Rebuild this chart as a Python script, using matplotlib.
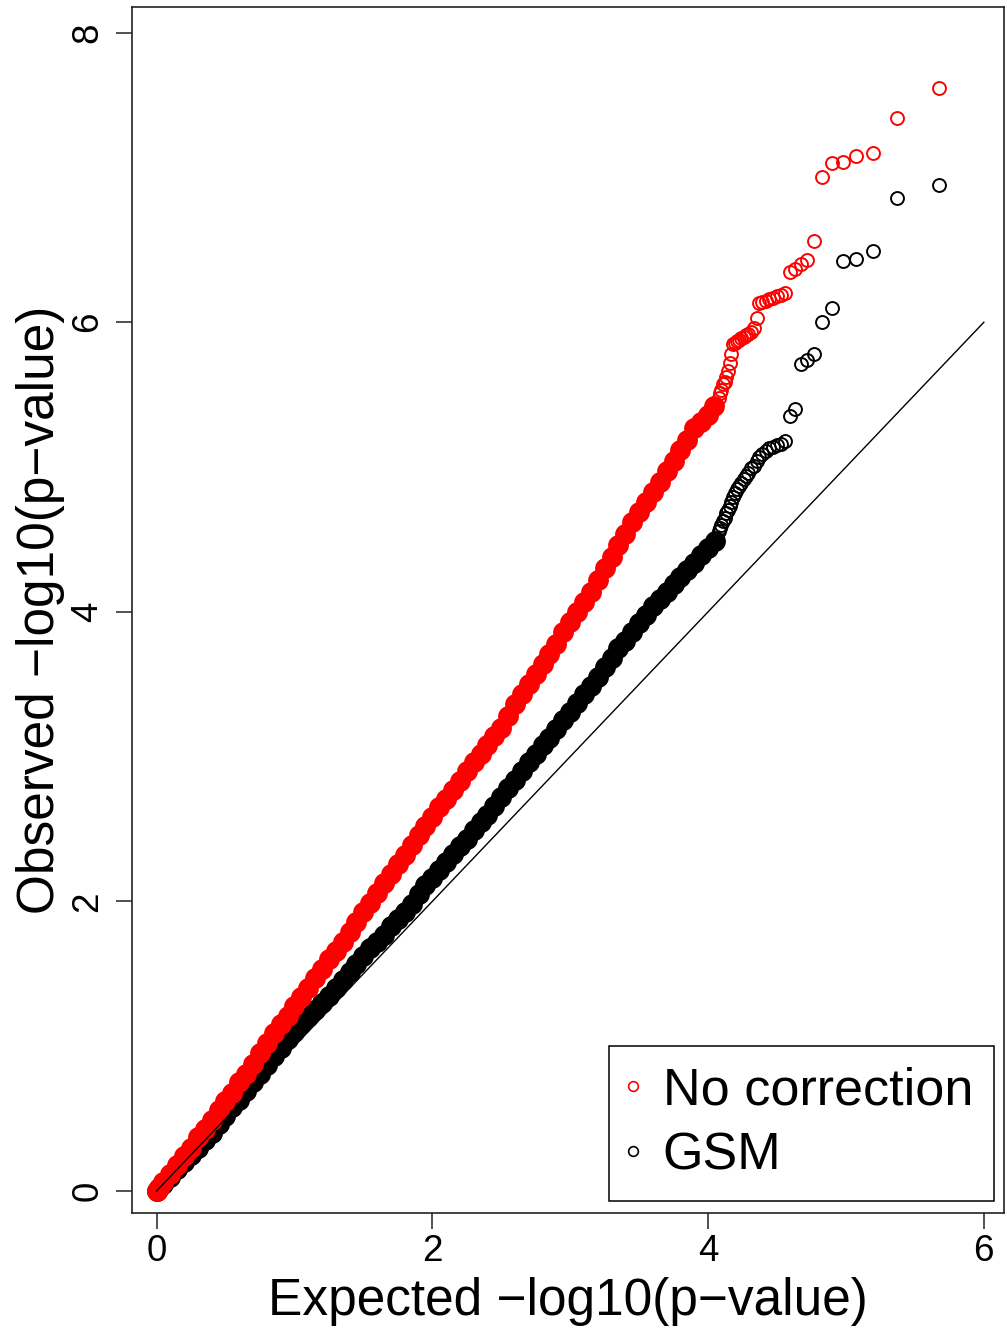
import matplotlib
matplotlib.use("Agg")
import matplotlib.pyplot as plt
from matplotlib.lines import Line2D

plt.rcParams['font.family'] = ['Liberation Sans', 'DejaVu Sans']

# ---------------- data ----------------
# extreme tail: expected -log10(p) shared by both series (ranks 1..40)
tail_expected = [5.674, 5.373, 5.196, 5.071, 4.975, 4.896, 4.829, 4.771, 4.720, 4.674,
                 4.632, 4.594, 4.559, 4.527, 4.497, 4.469, 4.443, 4.418, 4.394, 4.372,
                 4.352, 4.331, 4.311, 4.293, 4.275, 4.258, 4.242, 4.226, 4.211, 4.197,
                 4.183, 4.169, 4.156, 4.144, 4.131, 4.120, 4.108, 4.097, 4.086, 4.076]
nocorr_tail_obs = [7.62, 7.41, 7.17, 7.15, 7.11, 7.10, 7.00, 6.56, 6.43, 6.40,
                   6.37, 6.35, 6.20, 6.19, 6.18, 6.165, 6.16, 6.15, 6.14, 6.13,
                   6.03, 5.96, 5.93, 5.92, 5.91, 5.90, 5.89, 5.88, 5.87, 5.86,
                   5.85, 5.78, 5.72, 5.66, 5.62, 5.59, 5.57, 5.53, 5.51, 5.48]
gsm_tail_obs = [6.95, 6.86, 6.49, 6.44, 6.42, 6.10, 6.00, 5.78, 5.74, 5.71,
                5.40, 5.35, 5.18, 5.16, 5.15, 5.14, 5.13, 5.11, 5.09, 5.07,
                5.04, 5.01, 4.99, 4.96, 4.94, 4.92, 4.89, 4.87, 4.85, 4.82,
                4.79, 4.76, 4.73, 4.70, 4.68, 4.65, 4.63, 4.60, 4.58, 4.56]

# bulk of the points (heavily overlapping, appear as a solid band)
nocorr_bulk_exp = [0.00, 0.02, 0.05, 0.10, 0.15, 0.20, 0.25, 0.30, 0.35, 0.40,
                   0.45, 0.50, 0.55, 0.60, 0.65, 0.70, 0.75, 0.80, 0.85, 0.90,
                   0.95, 1.00, 1.05, 1.10, 1.15, 1.20, 1.25, 1.30, 1.35, 1.40,
                   1.45, 1.50, 1.55, 1.60, 1.65, 1.70, 1.75, 1.80, 1.85, 1.90,
                   1.95, 2.00, 2.05, 2.10, 2.15, 2.20, 2.25, 2.30, 2.35, 2.40,
                   2.45, 2.50, 2.55, 2.60, 2.65, 2.70, 2.75, 2.80, 2.85, 2.90,
                   2.95, 3.00, 3.05, 3.10, 3.15, 3.20, 3.25, 3.30, 3.35, 3.40,
                   3.45, 3.50, 3.55, 3.60, 3.65, 3.70, 3.75, 3.80, 3.85, 3.90,
                   3.95, 4.00, 4.04]
nocorr_bulk_obs = [0.00, 0.02, 0.06, 0.12, 0.18, 0.24, 0.30, 0.37, 0.43, 0.49,
                   0.56, 0.62, 0.68, 0.75, 0.81, 0.88, 0.95, 1.02, 1.09, 1.15,
                   1.21, 1.28, 1.34, 1.40, 1.47, 1.53, 1.60, 1.66, 1.72, 1.79,
                   1.86, 1.93, 1.99, 2.06, 2.13, 2.19, 2.26, 2.32, 2.39, 2.46,
                   2.52, 2.58, 2.65, 2.71, 2.77, 2.83, 2.90, 2.96, 3.02, 3.08,
                   3.14, 3.20, 3.28, 3.36, 3.43, 3.50, 3.57, 3.64, 3.71, 3.78,
                   3.86, 3.93, 4.00, 4.07, 4.14, 4.22, 4.30, 4.38, 4.46, 4.54,
                   4.62, 4.69, 4.76, 4.83, 4.90, 4.97, 5.04, 5.12, 5.19, 5.27,
                   5.31, 5.36, 5.42]
gsm_bulk_exp = [0.00, 0.02, 0.05, 0.10, 0.15, 0.20, 0.25, 0.30, 0.35, 0.40,
                0.45, 0.50, 0.55, 0.60, 0.65, 0.70, 0.75, 0.80, 0.85, 0.90,
                0.95, 1.00, 1.05, 1.10, 1.15, 1.20, 1.25, 1.30, 1.35, 1.40,
                1.45, 1.50, 1.55, 1.60, 1.65, 1.70, 1.75, 1.80, 1.85, 1.90,
                1.95, 2.00, 2.05, 2.10, 2.15, 2.20, 2.25, 2.30, 2.35, 2.40,
                2.45, 2.50, 2.55, 2.60, 2.65, 2.70, 2.75, 2.80, 2.85, 2.90,
                2.95, 3.00, 3.05, 3.10, 3.15, 3.20, 3.25, 3.30, 3.35, 3.40,
                3.45, 3.50, 3.55, 3.60, 3.65, 3.70, 3.75, 3.80, 3.85, 3.90,
                3.95, 4.00, 4.05]
gsm_bulk_obs = [0.00, 0.02, 0.05, 0.10, 0.15, 0.20, 0.25, 0.30, 0.35, 0.40,
                0.46, 0.52, 0.58, 0.63, 0.69, 0.75, 0.81, 0.87, 0.93, 0.99,
                1.05, 1.10, 1.15, 1.20, 1.25, 1.30, 1.35, 1.40, 1.46, 1.51,
                1.57, 1.62, 1.68, 1.72, 1.77, 1.83, 1.88, 1.93, 1.98, 2.05,
                2.11, 2.16, 2.22, 2.27, 2.33, 2.38, 2.43, 2.49, 2.55, 2.60,
                2.66, 2.72, 2.78, 2.84, 2.90, 2.96, 3.02, 3.08, 3.13, 3.19,
                3.25, 3.31, 3.37, 3.43, 3.49, 3.55, 3.62, 3.68, 3.75, 3.80,
                3.86, 3.92, 3.98, 4.04, 4.09, 4.14, 4.19, 4.24, 4.29, 4.34,
                4.39, 4.44, 4.49]

diag_x = [0, 6]
diag_y = [0, 6]

series_labels = ["No correction", "GSM"]
series_colors = ["red", "black"]
x_ticks = [0, 2, 4, 6]
y_ticks = [0, 2, 4, 6, 8]
x_label = "Expected \u2212log10(p\u2212value)"
y_label = "Observed \u2212log10(p\u2212value)"

# ---------------- figure ----------------
W, H = 1007, 1331
fig = plt.figure(figsize=(W / 100, H / 100), dpi=100)
ax = fig.add_axes([132.3 / W, 1 - 1213.3 / H, (1004 - 132.3) / W, (1213.3 - 7.3) / H])

ax.set_xlim(-0.1755, 6.146)
ax.set_ylim(-0.154, 8.175)

# GSM first, then no-correction on top, then the diagonal
ax.plot(gsm_bulk_exp, gsm_bulk_obs, linestyle='none', marker='o', ms=15,
        mfc=series_colors[1], mec=series_colors[1], mew=0)
ax.plot(tail_expected, gsm_tail_obs, linestyle='none', marker='o', ms=9.3,
        mfc='none', mec=series_colors[1], mew=1.4)
ax.plot(nocorr_bulk_exp, nocorr_bulk_obs, linestyle='none', marker='o', ms=15,
        mfc=series_colors[0], mec=series_colors[0], mew=0)
ax.plot(tail_expected, nocorr_tail_obs, linestyle='none', marker='o', ms=9.3,
        mfc='none', mec=series_colors[0], mew=1.4)
ax.plot(diag_x, diag_y, color='black', lw=1.0)

for s in ax.spines.values():
    s.set_linewidth(1.2)
    s.set_color('#222222')

ax.set_xticks(x_ticks)
ax.set_yticks(y_ticks)
ax.set_xticklabels([str(t) for t in x_ticks])
ax.set_yticklabels([str(t) for t in y_ticks], rotation=90, va='center')
ax.tick_params(axis='both', direction='out', length=11.5, width=1.1, labelsize=26.5,
               color='#222222')
ax.tick_params(axis='x', pad=3.5)
ax.tick_params(axis='y', pad=8)

ax.set_xlabel(x_label, fontsize=37, labelpad=5.4)
ax.set_ylabel(y_label, fontsize=37, labelpad=3.5)

handles = [Line2D([], [], linestyle='none', marker='o', ms=7, mfc='none',
                  mec=c, mew=1.2) for c in series_colors]
leg = ax.legend(handles, series_labels, loc='lower right',
                bbox_to_anchor=(0.9885, 0.0102), borderaxespad=0,
                fontsize=37.5, frameon=True, fancybox=False, framealpha=1,
                edgecolor='black', borderpad=0.4, labelspacing=0.3,
                handlelength=0.1, handletextpad=0.53)
leg.get_frame().set_linewidth(1.1)

fig.savefig("out.png", dpi=100)
